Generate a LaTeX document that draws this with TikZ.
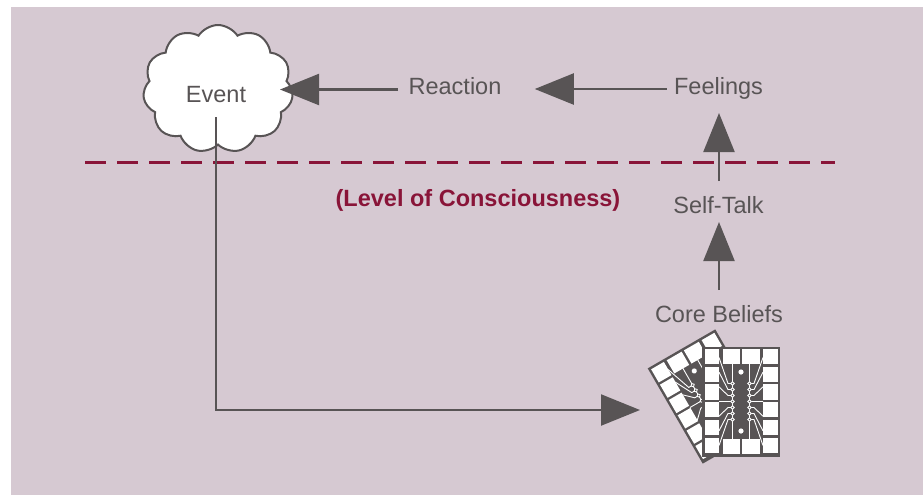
\documentclass[tikz,border=0pt]{standalone}
\usepackage{fontspec}
\setmainfont{Liberation Sans}
\usetikzlibrary{arrows.meta,shapes.symbols,calc}
\definecolor{bgmauve}{RGB}{214,201,210}
\definecolor{ink}{RGB}{88,84,85}
\definecolor{maroonline}{RGB}{137,20,56}
\definecolor{chipgray}{RGB}{88,84,85}
\tikzset{
  chip/.pic={
    \fill[chipgray] (-39,-55) rectangle (39,55);
    \foreach \k in {0,...,5}{
      \fill[white] (-36.5,{-52.5+17.7*\k}) rectangle (-21.8,{-37.3+17.7*\k});
      \fill[white] (21.8,{-52.5+17.7*\k}) rectangle (36.5,{-37.3+17.7*\k});
    }
    \fill[white] (-18.5,-52.5) rectangle (-1.3,-37.3);
    \fill[white] (1.3,-52.5) rectangle (18.5,-37.3);
    \fill[white] (-18.5,37.3) rectangle (-1.3,52.5);
    \fill[white] (1.3,37.3) rectangle (18.5,52.5);
    \draw[white,line width=0.45pt] (-8.5,-38) -- (-8.5,38);
    \draw[white,line width=0.45pt] (8.5,-38) -- (8.5,38);
    \foreach \i in {0,...,6}{
      \draw[white,line width=0.45pt] (-8.5,{-18+6*\i}) -- (-13,{-18+6*\i}) -- (-22,{-44+14.67*\i});
      \draw[white,line width=0.45pt] (8.5,{-18+6*\i}) -- (13,{-18+6*\i}) -- (22,{-44+14.67*\i});
    }
    \foreach \i in {0,...,6}{
      \filldraw[fill=chipgray,draw=white,line width=0.45pt] (-8.5,{-18+6*\i}) circle[radius=0.9pt];
      \filldraw[fill=chipgray,draw=white,line width=0.45pt] (8.5,{-18+6*\i}) circle[radius=0.9pt];
    }
    \fill[white] (0,-29.5) circle[radius=1.3pt];
    \fill[white] (0,29.5) circle[radius=1.3pt];
  }
}
\begin{document}
\begin{tikzpicture}[x=0.5pt,y=-0.5pt,
  lbl/.style={text=ink, font=\fontsize{11.75}{14}\selectfont, inner sep=0pt, anchor=base},
  arr/.style={draw=ink, line width=1.1pt, -{Triangle[length=19.5pt,width=15.5pt]}},
  cloudbox/.style={cloud, draw=ink, fill=white, line width=1pt, cloud puffs=11,
    cloud puff arc=115, cloud ignores aspect, minimum width=75pt, minimum height=64pt, inner sep=0pt},
  dashline/.style={draw=maroonline, line width=1.5pt, dash pattern=on 10.5pt off 5.5pt},
  levellbl/.style={text=maroonline, font=\fontsize{11.75}{14}\selectfont\bfseries, inner sep=0pt, anchor=base}]
\fill[white] (0,0) rectangle (923,495);
\path[use as bounding box] (0,0) rectangle (923,495);
\fill[bgmauve] (11,7) rectangle (923,495);

% cloud and labels
\node[cloudbox] (cloud) at (218,89) {};
\node[lbl] (event) at (216,102) {Event};
\node[lbl] (reaction) at (455,94) {Reaction};
\node[lbl] (feelings) at (718.5,94) {Feelings};
\node[lbl] (selftalk) at (718.5,213) {Self-Talk};
\node[lbl] (core) at (719,322) {Core Beliefs};
\node[levellbl] (level) at (478,206) {(Level of Consciousness)};

% chips
\pic[rotate=30] (backchip) at (709,396.5) {chip};
\pic (frontchip) at (741,401.5) {chip};

% dashed level line
\coordinate (dl) at (85,162);
\coordinate (dr) at (835,162);
\draw[dashline] (dl) -- (dr);

% coordinates for connector ends
\coordinate (cloudtip) at (280,89.5);
\coordinate (evbot) at (216,117);
\coordinate (chiptip) at (640,410);

% connectors
\draw[arr] ($(reaction.base west)+(-10,-4.5)$) -- (cloudtip);
\draw[arr] ($(feelings.base west)+(-7,-5)$) -- ($(reaction.base east)+(33,-5)$);
\draw[arr] ($(selftalk.base)+(0.5,-32)$) -- ($(feelings.base)+(0.5,19)$);
\draw[arr] ($(core.base)+(0,-32)$) -- ($(selftalk.base)+(0.5,9)$);
\draw[arr] (evbot) |- (chiptip);
\end{tikzpicture}
\end{document}
